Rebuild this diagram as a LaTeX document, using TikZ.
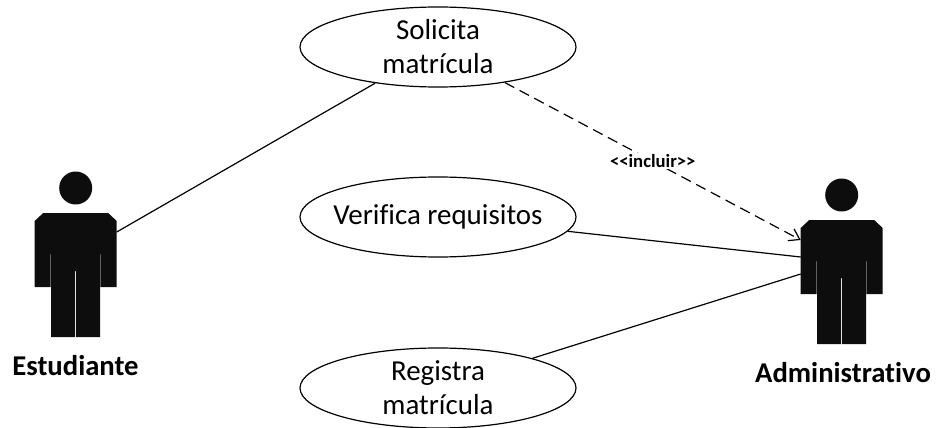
\documentclass[tikz,border=0pt]{standalone}
\usepackage{fontspec}
\setmainfont[Ligatures=NoCommon]{Carlito}
\usetikzlibrary{arrows.meta,shapes.geometric}
\definecolor{ActorBlack}{HTML}{0D0D0D}

\tikzset{
  casouso/.style={draw, ellipse, line width=0.9pt, minimum width=207pt, minimum height=60pt, inner xsep=-15pt, inner ysep=0pt, align=center, font=\fontsize{21.7}{25.5}\selectfont},
  rotulo/.style={font=\fontsize{21.5}{25}\selectfont\bfseries, inner sep=0pt},
  enlace/.style={line width=0.9pt},
  actor/.pic={
    \fill[ActorBlack] (0,-25) circle (16.5);
    \fill[ActorBlack] (-32.5,0) -- (32.5,0) -- (41,8) -- (41,74) -- (25,74) -- (25,41) -- (24.5,41)
      -- (24.5,124) -- (0.5,124) -- (0.5,58) -- (-0.5,58) -- (-0.5,124) -- (-24.5,124) -- (-24.5,41) -- (-25,41) -- (-25,74) -- (-41,74) -- (-41,8) -- cycle;
  }
}

\begin{document}
\begin{tikzpicture}[x=0.75pt, y=-0.75pt]
  \useasboundingbox (0,0) rectangle (940,428);

  % Actores
  \pic at (75.7,213) {actor};
  \pic at (841.7,220) {actor};
  \node[rotulo] (estudiante) at (75.5,366) {Estudiante};
  \node[rotulo] (administrativo) at (843,373) {Administrativo};

  % Puntos de llegada sobre los brazos
  \coordinate (estudianteBrazo) at (116.7,232);
  \coordinate (adminIncluir) at (800.7,240);
  \coordinate (adminVerifica) at (800.7,257);
  \coordinate (adminRegistra) at (800.7,274);

  % Casos de uso
  \node[casouso] (solicita) at (438,47) {Solicita\\matrícula};
  \node[casouso] (verifica) at (438,217) {\raisebox{-5pt}{Verifica requisitos}};
  \node[casouso] (registra) at (438,388) {\raisebox{-1.5pt}{Registra}\\\raisebox{-1.5pt}{matrícula}};

  % Enlaces
  \draw[enlace] (solicita) -- (estudianteBrazo);
  \draw[enlace] (verifica) -- (adminVerifica);
  \draw[enlace] (registra) -- (adminRegistra);
  \draw[enlace, dash pattern=on 8pt off 4.5pt, -{Straight Barb[length=7.5pt, width=10pt]}] (solicita) -- (adminIncluir)
    node[midway, fill=white, inner sep=1pt, font=\fontsize{14}{16}\selectfont\bfseries] (incluir) {<{}<incluir>{}>};
\end{tikzpicture}
\end{document}
